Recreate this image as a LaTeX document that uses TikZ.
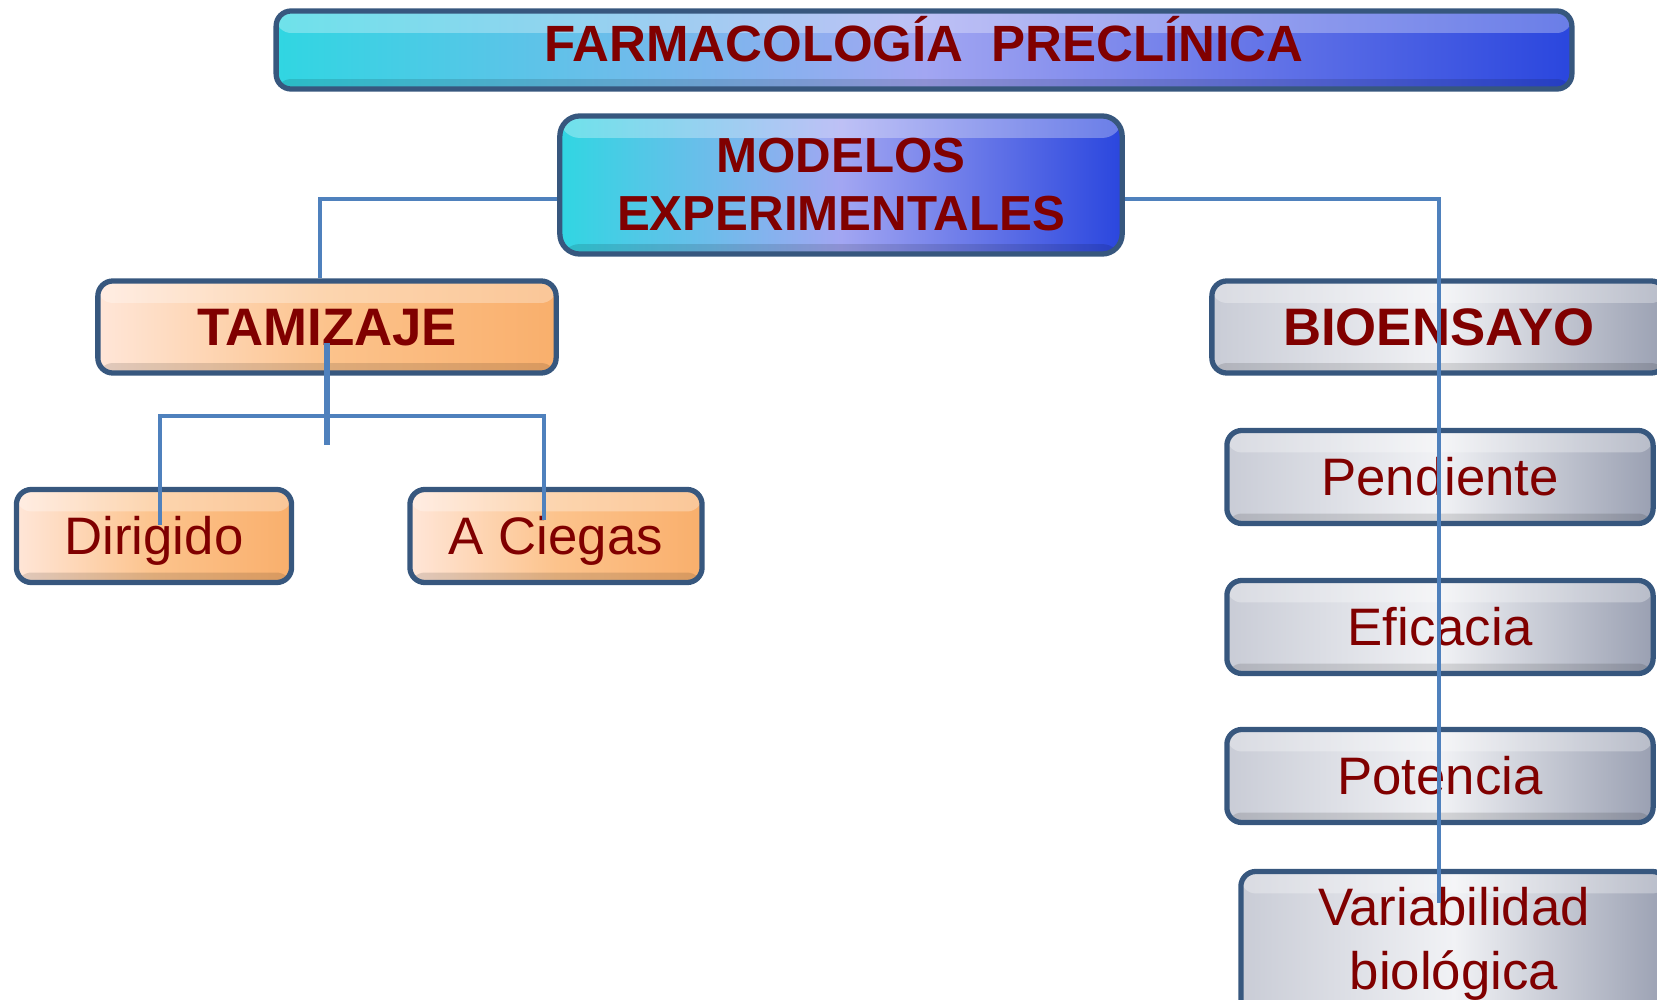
\documentclass[tikz,border=0pt]{standalone}
\usepackage{fontspec}
\setmainfont{Liberation Sans}
\usepackage{tikz}
\definecolor{labelred}{HTML}{800000}
\definecolor{boxedge}{HTML}{37577E}
\definecolor{linkblue}{HTML}{4F81BD}
\definecolor{bluea}{HTML}{30D6E2}
\definecolor{blueb}{HTML}{A2A6F2}
\definecolor{bluec}{HTML}{2A46DE}
\definecolor{peacha}{HTML}{FFE6D8}
\definecolor{peachb}{HTML}{FCC38C}
\definecolor{peachc}{HTML}{F9AF6C}
\definecolor{silvera}{HTML}{C9CCD6}
\definecolor{silverb}{HTML}{F1F2F5}
\definecolor{silverc}{HTML}{9AA0B2}
\tikzset{
  box/.style={draw=boxedge, line width=1.5pt, rounded corners=0.15cm,
    text=labelred, align=center, inner sep=0pt,
    path picture={
      \fill[white, opacity=.3] (path picture bounding box.north west)
        rectangle ([yshift=-0.22cm]path picture bounding box.north east);
      \fill[black, opacity=.12] (path picture bounding box.south west)
        rectangle ([yshift=0.1cm]path picture bounding box.south east);
    }},
  bluebox/.style={box, left color=bluea, right color=bluec, middle color=blueb},
  peachbox/.style={box, left color=peacha, right color=peachc, middle color=peachb},
  silverbox/.style={box, left color=silvera, right color=silverc, middle color=silverb},
  oneline/.style={text height=10.7pt, text depth=0pt},
  link/.style={draw=linkblue, line width=1.2pt},
}

\begin{document}
\begin{tikzpicture}[x=0.01cm, y=-0.01cm]
    \useasboundingbox (0,0) rectangle (1657,1000);
    \clip (0,0) rectangle (1657,1000);
    % top row
    \node[bluebox, minimum width=12.95cm, minimum height=0.78cm, text depth=0.14cm, text height=10.4pt,
          font=\bfseries\fontsize{14.5}{17}\selectfont] (farma) at (924,50) {FARMACOLOGÍA\ \ PRECLÍNICA};
    \node[bluebox, rounded corners=0.2cm, minimum width=5.62cm, minimum height=1.38cm,
          font=\bfseries\fontsize{14}{16.5}\selectfont] (modelos) at (841,185) {MODELOS\\EXPERIMENTALES};
    % tamizaje branch
    \node[peachbox, oneline, minimum width=4.58cm, minimum height=0.92cm,
          font=\bfseries\fontsize{15}{18}\selectfont] (tamizaje) at (327,327) {TAMIZAJE};
    \node[peachbox, oneline, minimum width=2.75cm, minimum height=0.93cm,
          font=\fontsize{15}{18}\selectfont] (dirigido) at (154,536) {Dirigido};
    \node[peachbox, oneline, minimum width=2.92cm, minimum height=0.93cm,
          font=\fontsize{15}{18}\selectfont] (ciegas) at (556,536) {A Ciegas};
    % bioensayo branch
    \node[silverbox, oneline, minimum width=4.54cm, minimum height=0.92cm,
          font=\bfseries\fontsize{15}{18}\selectfont] (bioensayo) at (1439,327) {BIOENSAYO};
    \node[silverbox, oneline, minimum width=4.26cm, minimum height=0.93cm,
          font=\fontsize{15}{18}\selectfont] (pendiente) at (1440,477) {Pendiente};
    \node[silverbox, oneline, minimum width=4.26cm, minimum height=0.93cm,
          font=\fontsize{15}{18}\selectfont] (eficacia) at (1440,627) {Eficacia};
    \node[silverbox, oneline, minimum width=4.26cm, minimum height=0.93cm,
          font=\fontsize{15}{18}\selectfont] (potencia) at (1440,776) {Potencia};
    \node[silverbox, minimum width=4.26cm, minimum height=1.45cm,
          font=\fontsize{15}{18}\selectfont] (variab) at (1454,944) {Variabilidad\\biológica};
    % connectors
    \coordinate (tzend) at ([yshift=-1.18cm]tamizaje.center);
    \coordinate (dend) at (160,525);
    \coordinate (cend) at (544,520);
    \coordinate (bar) at (0,416);
    \coordinate (vend) at (1439,903);
    \draw[link] ([yshift=-0.14cm]modelos.west) -| ([xshift=-0.07cm]tamizaje.north);
    \draw[link] ([yshift=-0.14cm]modelos.east) -| (vend);
    \draw[link, line width=1.9pt] ([yshift=-0.16cm]tamizaje.center) -- (tzend);
    \draw[link] (dend) -- (dend |- bar) -- (cend |- bar) -- (cend);
\end{tikzpicture}
\end{document}
